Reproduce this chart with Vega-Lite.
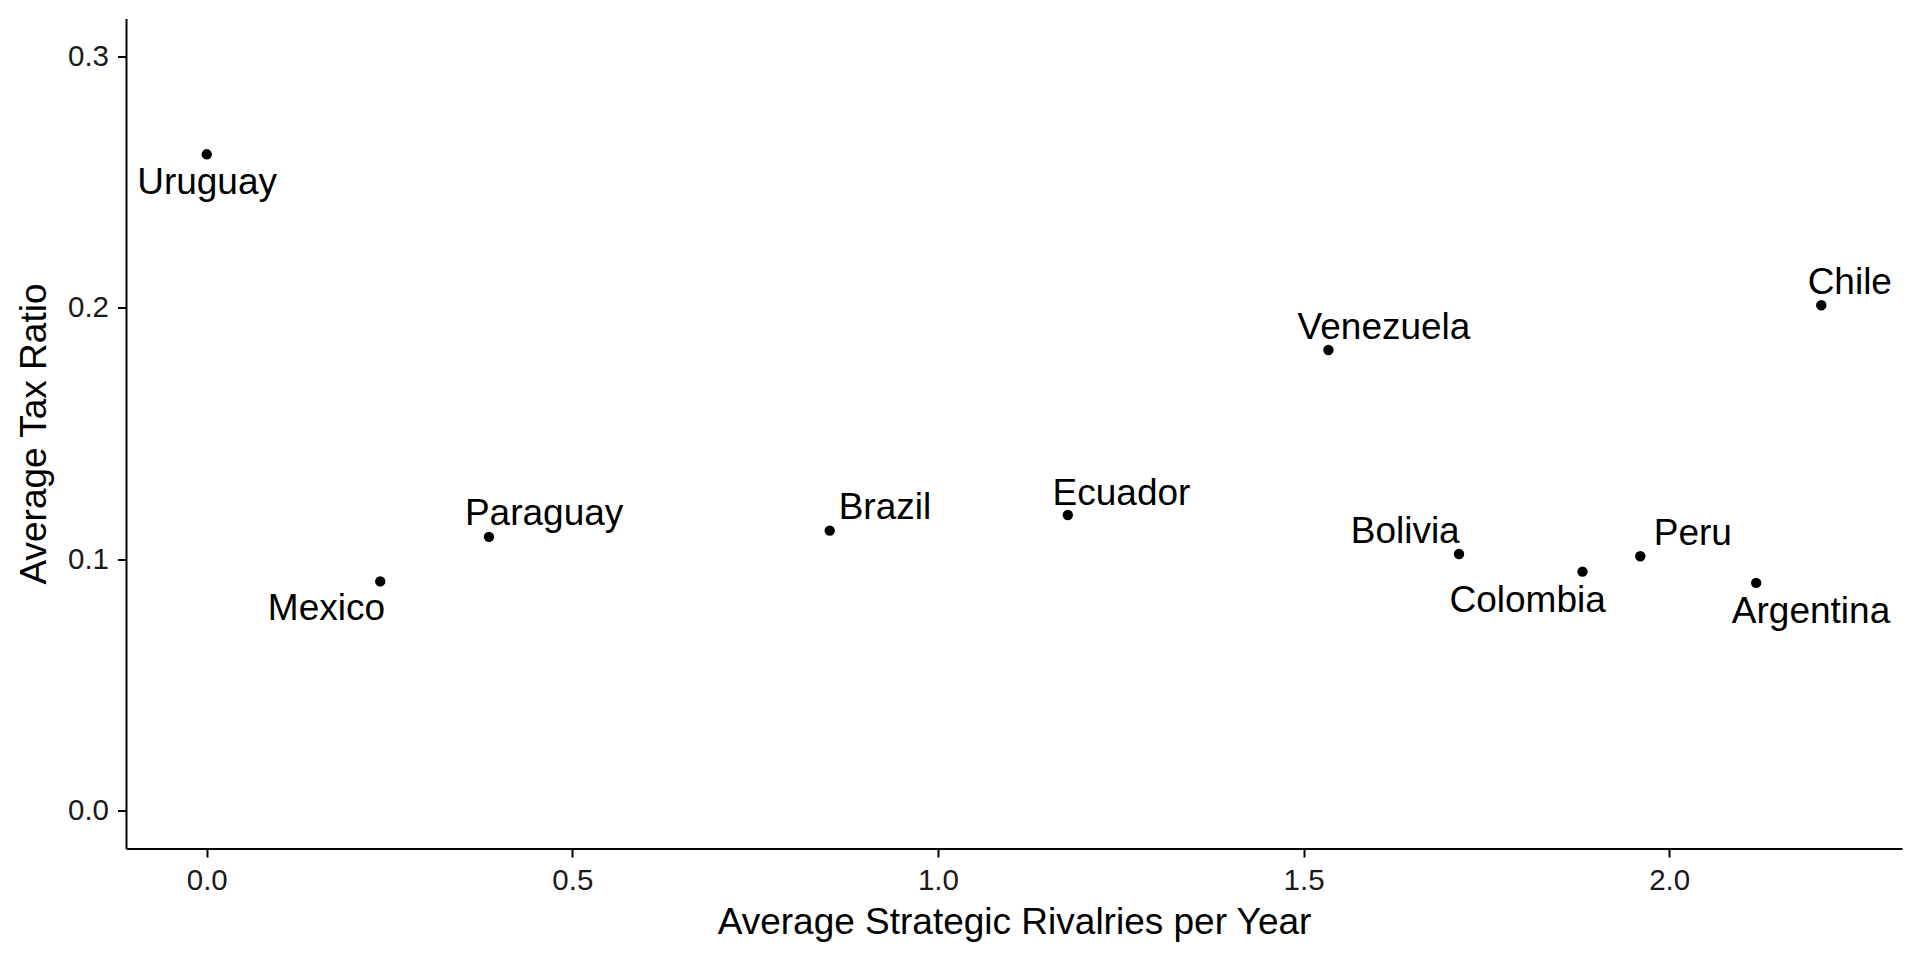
{
  "$schema": "https://vega.github.io/schema/vega-lite/v6.json",
  "width": 1776,
  "height": 830,
  "autosize": {"type": "none"},
  "padding": {"left": 126, "top": 18.5, "right": 18, "bottom": 111.5},
  "background": "white",
  "config": {
    "view": {"stroke": null},
    "font": "Liberation Sans",
    "axis": {
      "domainColor": "black",
      "domainWidth": 2,
      "tickColor": "black",
      "tickWidth": 2,
      "tickSize": 8.5,
      "labelFont": "Liberation Sans",
      "labelFontSize": 29.5,
      "labelColor": "#1a1a1a",
      "titleFont": "Liberation Sans",
      "titleFontSize": 37,
      "titleFontWeight": "normal",
      "titleColor": "black",
      "grid": false
    }
  },
  "data": {
    "values": [
      {"country": "Uruguay", "rivalries": 0.0, "tax": 0.261, "lx": 0.0005, "ly": 0.2495},
      {"country": "Mexico", "rivalries": 0.2373, "tax": 0.0912, "lx": 0.1637, "ly": 0.0803},
      {"country": "Paraguay", "rivalries": 0.386, "tax": 0.1089, "lx": 0.4614, "ly": 0.118},
      {"country": "Brazil", "rivalries": 0.852, "tax": 0.1114, "lx": 0.9275, "ly": 0.1203},
      {"country": "Ecuador", "rivalries": 1.1776, "tax": 0.1176, "lx": 1.251, "ly": 0.126},
      {"country": "Venezuela", "rivalries": 1.534, "tax": 0.1832, "lx": 1.61, "ly": 0.1921},
      {"country": "Chile", "rivalries": 2.208, "tax": 0.201, "lx": 2.247, "ly": 0.21},
      {"country": "Bolivia", "rivalries": 1.7126, "tax": 0.1021, "lx": 1.639, "ly": 0.111},
      {"country": "Colombia", "rivalries": 1.8815, "tax": 0.0951, "lx": 1.8064, "ly": 0.0836},
      {"country": "Peru", "rivalries": 1.9605, "tax": 0.1012, "lx": 2.0324, "ly": 0.1099},
      {"country": "Argentina", "rivalries": 2.119, "tax": 0.0906, "lx": 2.194, "ly": 0.079}
    ]
  },
  "layer": [
    {
      "mark": {"type": "circle", "size": 108, "color": "black", "opacity": 1},
      "encoding": {
        "x": {
          "field": "rivalries", "type": "quantitative",
          "scale": {"domain": [-0.1104, 2.3184], "nice": false, "zero": false},
          "axis": {"values": [0, 0.5, 1, 1.5, 2], "format": ".1f", "title": "Average Strategic Rivalries per Year", "labelPadding": 9, "titlePadding": 10}
        },
        "y": {
          "field": "tax", "type": "quantitative",
          "scale": {"domain": [-0.015, 0.315], "nice": false, "zero": false},
          "axis": {"values": [0, 0.1, 0.2, 0.3], "format": ".1f", "title": "Average Tax Ratio", "labelPadding": 9, "titlePadding": 14}
        }
      }
    },
    {
      "mark": {"type": "text", "fontSize": 37, "font": "Liberation Sans", "color": "black", "align": "center", "baseline": "middle"},
      "encoding": {
        "x": {"field": "lx", "type": "quantitative"},
        "y": {"field": "ly", "type": "quantitative"},
        "text": {"field": "country", "type": "nominal"}
      }
    }
  ]
}
